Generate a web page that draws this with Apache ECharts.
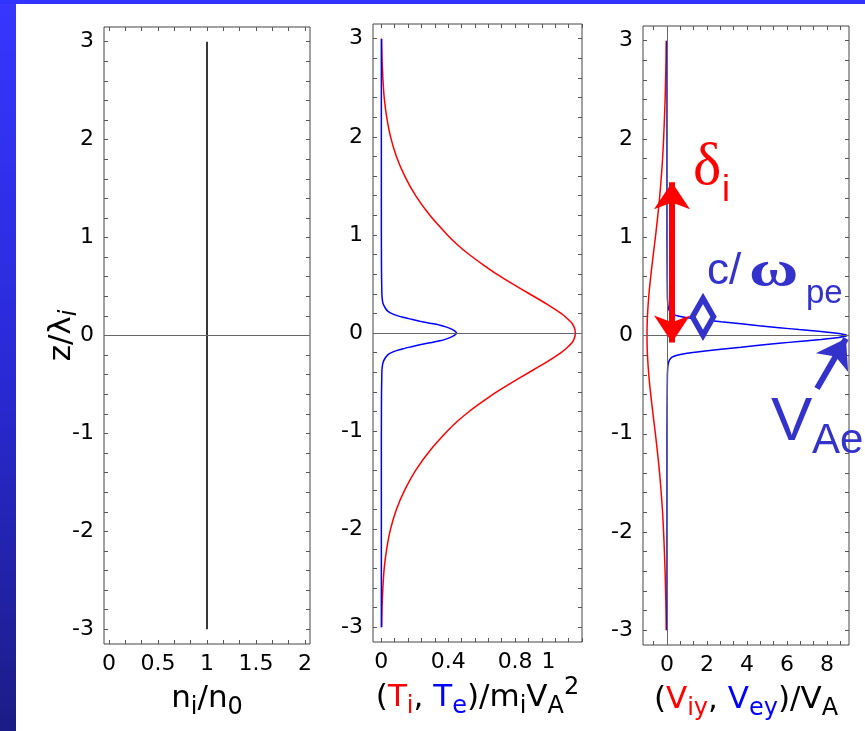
<!DOCTYPE html>
<html>
<head>
<meta charset="utf-8">
<script src="https://cdn.jsdelivr.net/npm/echarts@6/dist/echarts.min.js"></script>
<style>
  html, body { margin: 0; padding: 0; background: #ffffff; }
  #chart { width: 865px; height: 731px; }
</style>
</head>
<body>
<div id="chart"></div>
<script>
// ---- profiles across the current sheet (z in units of lambda_i) ----
// broad ion-scale profiles
const zBroad = [-3, -2.8, -2.6, -2.4, -2.2, -2, -1.8, -1.6, -1.4, -1.2, -1, -0.9, -0.8, -0.7, -0.6, -0.5, -0.4, -0.3, -0.2, -0.15, -0.1, -0.05,
  0, 0.05, 0.1, 0.15, 0.2, 0.3, 0.4, 0.5, 0.6, 0.7, 0.8, 0.9, 1, 1.2, 1.4, 1.6, 1.8, 2, 2.2, 2.4, 2.6, 2.8, 3];
const ionTemp = [0.002, 0.004, 0.009, 0.017, 0.032, 0.055, 0.09, 0.14, 0.205, 0.29, 0.395, 0.455, 0.525, 0.605, 0.69, 0.785, 0.885, 0.985, 1.075, 1.11, 1.14, 1.155,
  1.16, 1.155, 1.14, 1.11, 1.075, 0.985, 0.885, 0.785, 0.69, 0.605, 0.525, 0.455, 0.395, 0.29, 0.205, 0.14, 0.09, 0.055, 0.032, 0.017, 0.009, 0.004, 0.002];
const ionVel = [-0.04, -0.05, -0.07, -0.095, -0.13, -0.17, -0.22, -0.29, -0.37, -0.47, -0.58, -0.64, -0.70, -0.758, -0.814, -0.866, -0.911, -0.948, -0.977, -0.987, -0.994, -0.998,
  -1.0, -0.998, -0.994, -0.987, -0.977, -0.948, -0.911, -0.866, -0.814, -0.758, -0.70, -0.64, -0.58, -0.47, -0.37, -0.29, -0.22, -0.17, -0.13, -0.095, -0.07, -0.05, -0.04];

// narrow electron-scale profiles
const zNarrow = [-3, -2, -1, -0.6, -0.5, -0.4, -0.35, -0.3, -0.25, -0.22, -0.2, -0.18, -0.16, -0.14, -0.12, -0.1, -0.08, -0.06, -0.04, -0.02,
  0, 0.02, 0.04, 0.06, 0.08, 0.1, 0.12, 0.14, 0.16, 0.18, 0.2, 0.22, 0.25, 0.3, 0.35, 0.4, 0.5, 0.6, 1, 2, 3];
const elecTemp = [0, 0, 0, 0.001, 0.002, 0.003, 0.005, 0.01, 0.025, 0.04, 0.06, 0.09, 0.13, 0.18, 0.23, 0.29, 0.35, 0.39, 0.42, 0.44,
  0.45, 0.44, 0.42, 0.39, 0.35, 0.29, 0.23, 0.18, 0.13, 0.09, 0.06, 0.04, 0.025, 0.01, 0.005, 0.003, 0.002, 0.001, 0, 0, 0];
const elecVel = [0, 0, 0, 0.01, 0.015, 0.02, 0.03, 0.05, 0.12, 0.25, 0.5, 1.0, 1.8, 2.7, 3.7, 4.6, 5.6, 6.6, 7.7, 8.6,
  9.0, 8.6, 7.7, 6.6, 5.6, 4.6, 3.7, 2.7, 1.8, 1.0, 0.5, 0.25, 0.12, 0.05, 0.03, 0.02, 0.015, 0.01, 0, 0, 0];

// uniform density
const densZ = [-3, 3];
const densVal = [1, 1];

// tick labels
const zTickLabels = [-3, -2, -1, 0, 1, 2, 3];
const nTickLabels = [0, 0.5, 1, 1.5, 2];
const tTickLabels = [0, 0.4, 0.8, 1];
const vTickLabels = [0, 2, 4, 6, 8];

// ---- helpers ----
const AXIS_FONT = "'DejaVu Sans', Arial, sans-serif";
const RED = '#ff0000';
const BLUE = '#0000ff';
const NOTE_BLUE = '#3333cc';

function steps(start, step, count) {
  return Array.from({ length: count }, (_, k) => Math.round((start + k * step) * 10000) / 10000);
}
function pairs(xs, zs) { return zs.map((z, k) => [xs[k], z]); }

const zTicks = steps(-3, 0.2, 31);
const nTicks = steps(0, 1 / 6, 13);
const tTicks = steps(0, 0.08, 16);
const vTicks = steps(-2 / 3, 2 / 3, 15);

const F = 31, f = 24;
const nameRich = {
  m: { fontSize: F, fontFamily: AXIS_FONT, color: '#000' },
  s: { fontSize: f, fontFamily: AXIS_FONT, color: '#000', padding: [18, 0, 0, 0] },
  p: { fontSize: f, fontFamily: AXIS_FONT, color: '#000', padding: [0, 0, 20, 0] },
  r: { fontSize: F, fontFamily: AXIS_FONT, color: RED },
  rs: { fontSize: f, fontFamily: AXIS_FONT, color: RED, padding: [18, 0, 0, 0] },
  b: { fontSize: F, fontFamily: AXIS_FONT, color: BLUE },
  bs: { fontSize: f, fontFamily: AXIS_FONT, color: BLUE, padding: [18, 0, 0, 0] }
};

const panels = [
  { grid: { left: 104, top: 27, width: 206, height: 617 }, xMin: -0.05, xMax: 2.05,
    xLabels: nTickLabels, xTicks: nTicks, name: '{m|n}{s|i}{m|/n}{s|0}' },
  { grid: { left: 373, top: 24, width: 209, height: 618 }, xMin: -0.05, xMax: 1.2,
    xLabels: tTickLabels, xTicks: tTicks, name: '{m|(}{r|T}{rs|i}{m|, }{b|T}{bs|e}{m|)/m}{s|i}{m|V}{s|A}{p|2}' },
  { grid: { left: 643, top: 26, width: 206, height: 619 }, xMin: -1.2, xMax: 9.1,
    xLabels: vTickLabels, xTicks: vTicks, name: '{m|(}{r|V}{rs|iy}{m|, }{b|V}{bs|ey}{m|)/V}{s|A}' }
];

const grids = [], xAxes = [], yAxes = [];
const tickStyle = { color: '#555', width: 1 };
panels.forEach((p, i) => {
  grids.push(Object.assign({ show: true, borderColor: '#444', borderWidth: 1, outerBoundsMode: 'none' }, p.grid));
  const xBase = { type: 'value', gridIndex: i, min: p.xMin, max: p.xMax,
    axisLine: { show: false, onZero: false }, splitLine: { show: false },
    axisTick: { show: true, inside: true, length: 4, customValues: p.xTicks, lineStyle: tickStyle } };
  xAxes.push(Object.assign({}, xBase, {
    position: 'bottom',
    axisLabel: { show: true, customValues: p.xLabels, margin: 9, fontSize: 22, color: '#000', fontFamily: AXIS_FONT },
    name: p.name, nameLocation: 'middle', nameGap: 34, nameMoveOverlap: false,
    nameTextStyle: { rich: nameRich }
  }));
  xAxes.push(Object.assign({}, xBase, { position: 'top', axisLabel: { show: false } }));
  const yBase = { type: 'value', gridIndex: i, min: -3.15, max: 3.15,
    axisLine: { show: false, onZero: false }, splitLine: { show: false },
    axisTick: { show: true, inside: true, length: 4, customValues: zTicks, lineStyle: tickStyle } };
  const left = Object.assign({}, yBase, {
    position: 'left',
    axisLabel: { show: true, customValues: zTickLabels, margin: 10, fontSize: 22, color: '#000', fontFamily: AXIS_FONT }
  });
  if (i === 0) {
    Object.assign(left, {
      name: '{m|z/}{l|λ}{s|i}', nameLocation: 'middle', nameRotate: 90, nameGap: 22, nameMoveOverlap: false,
      nameTextStyle: { rich: {
        m: { fontSize: 31, fontFamily: AXIS_FONT, color: '#000' },
        l: { fontSize: 31, fontFamily: AXIS_FONT, color: '#000' },
        s: { fontSize: 24, fontFamily: AXIS_FONT, fontStyle: 'italic', color: '#000', padding: [16, 0, 0, 0] }
      } }
    });
  }
  yAxes.push(left);
  yAxes.push(Object.assign({}, yBase, { position: 'right', axisLabel: { show: false } }));
});

function zeroLine(i, extra) {
  return {
    type: 'line', xAxisIndex: 2 * i, yAxisIndex: 2 * i, data: [], z: 1, silent: true,
    markLine: { silent: true, symbol: 'none', animation: false, label: { show: false },
      lineStyle: { color: '#666', width: 1, type: 'solid' },
      data: [{ yAxis: 0 }].concat(extra || []) }
  };
}
function curve(i, xs, zs, color, width) {
  return { type: 'line', xAxisIndex: 2 * i, yAxisIndex: 2 * i, data: pairs(xs, zs), showSymbol: false, symbol: 'none',
    smooth: 0.15, z: 3, silent: true, lineStyle: { color: color, width: width }, itemStyle: { color: color } };
}
function note(from, to, symbols, size, color, width) {
  return {
    type: 'line', xAxisIndex: 4, yAxisIndex: 4, data: [], z: 12, silent: true,
    markLine: { silent: true, animation: false, symbol: symbols, symbolSize: size, label: { show: false },
      lineStyle: { color: color, width: width, type: 'solid', opacity: 1 },
      data: [[{ coord: from }, { coord: to }]] }
  };
}

const series = [
  zeroLine(0),
  curve(0, densVal, densZ, '#222', 1.8),
  zeroLine(1),
  curve(1, ionTemp, zBroad, RED, 1.5),
  curve(1, elecTemp, zNarrow, BLUE, 1.5),
  zeroLine(2, [{ xAxis: 0 }]),
  curve(2, ionVel, zBroad, RED, 1.5),
  curve(2, elecVel, zNarrow, BLUE, 1.5),
  // ion inertial length marker
  note([0.25, 1.56], [0.25, -0.07], ['arrow', 'arrow'], 27, RED, 6),
  // electron inertial length marker
  { type: 'scatter', xAxisIndex: 4, yAxisIndex: 4, data: [[1.8, 0.19]], symbol: 'diamond', symbolSize: [21, 37], z: 13, silent: true,
    itemStyle: { color: '#ffffff', borderColor: NOTE_BLUE, borderWidth: 6, opacity: 1 } },
  Object.assign(note([1.8, 0.40], [1.8, -0.02], ['none', 'none'], 0, NOTE_BLUE, 3), { z: 14 }),
  // pointer to the electron jet peak
  note([7.5, -0.54], [8.95, -0.03], ['none', 'arrow'], 28, NOTE_BLUE, 6)
];

function label(x, y, text, font, fill, scaleX) {
  return { type: 'text', x: x, y: y, z: 100, silent: true, scaleX: scaleX || 1,
    style: { text: text, font: font, fill: fill, textAlign: 'left', textVerticalAlign: 'middle', align: 'left', verticalAlign: 'middle' } };
}

const graphic = [
  { type: 'rect', z: 100, silent: true, shape: { x: 0, y: 0, width: 16, height: 731 },
    style: { fill: new echarts.graphic.LinearGradient(0, 0, 0, 1, [
      { offset: 0, color: '#3636ff' }, { offset: 0.5, color: '#2a2ad8' }, { offset: 1, color: '#1c1c86' }]) } },
  { type: 'rect', z: 100, silent: true, shape: { x: 0, y: 0, width: 865, height: 4 }, style: { fill: '#3333ff' } },
  label(693, 168, 'δ', "60px 'Liberation Serif'", RED),
  label(722, 191, 'i', "36px 'Liberation Sans'", RED),
  label(707, 272, 'c/', "44px 'Liberation Sans'", NOTE_BLUE),
  label(749, 273, 'ω', "bold 50px 'Liberation Serif'", NOTE_BLUE, 1.35),
  label(806, 294, 'pe', "33px 'Liberation Sans'", NOTE_BLUE),
  label(771, 423, 'V', "62px 'Liberation Sans'", NOTE_BLUE),
  label(812, 441, 'Ae', "42px 'Liberation Sans'", NOTE_BLUE)
];

const chart = echarts.init(document.getElementById('chart'), null, { renderer: 'canvas' });
chart.setOption({
  animation: false,
  backgroundColor: '#ffffff',
  textStyle: { fontFamily: AXIS_FONT },
  grid: grids,
  xAxis: xAxes,
  yAxis: yAxes,
  series: series,
  graphic: graphic
});
</script>
</body>
</html>
